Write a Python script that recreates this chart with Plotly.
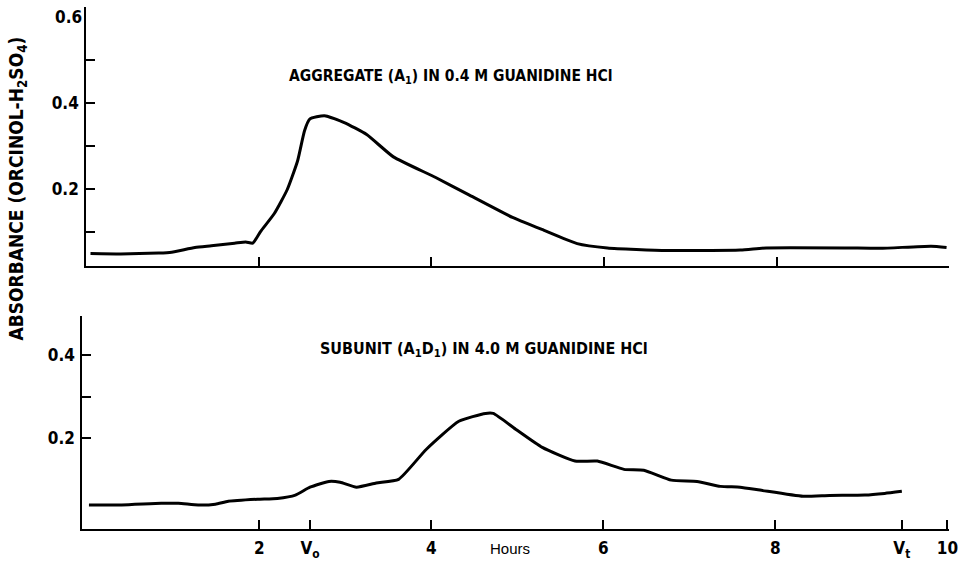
import plotly.graph_objects as go

# ---- data (hours vs absorbance) ----
agg_hours = [0.05, 0.40, 0.84, 0.99, 1.26, 1.45, 1.72, 1.85, 1.93, 2.02, 2.18, 2.33, 2.45,
             2.53, 2.59, 2.76, 2.99, 3.25, 3.56, 4.05, 4.43, 4.94, 5.28, 5.69, 6.04, 6.73,
             7.58, 7.88, 8.79, 9.20, 9.79, 9.97]
agg_abs = [0.049, 0.048, 0.050, 0.052, 0.063, 0.067, 0.073, 0.076, 0.073, 0.100, 0.142, 0.198,
           0.265, 0.335, 0.362, 0.370, 0.354, 0.326, 0.274, 0.226, 0.186, 0.133, 0.105, 0.072,
           0.062, 0.056, 0.057, 0.062, 0.062, 0.061, 0.066, 0.063]

sub_hours = [0.02, 0.40, 0.86, 1.06, 1.29, 1.49, 1.64, 1.98, 2.21, 2.42, 2.59, 2.81, 2.94,
             3.13, 3.36, 3.62, 3.94, 4.32, 4.63, 4.72, 4.98, 5.29, 5.67, 5.93, 6.24, 6.47,
             6.79, 7.09, 7.36, 7.59, 7.82, 8.32, 8.63, 9.04, 9.27, 9.47]
sub_abs = [0.039, 0.039, 0.043, 0.043, 0.039, 0.041, 0.048, 0.053, 0.055, 0.063, 0.082, 0.096,
           0.094, 0.082, 0.092, 0.101, 0.173, 0.241, 0.260, 0.260, 0.222, 0.178, 0.145, 0.145,
           0.125, 0.123, 0.099, 0.096, 0.084, 0.082, 0.075, 0.060, 0.062, 0.063, 0.067, 0.072]

top_xticks = [2, 4, 6, 8, 10]
bot_xticks = [2, 2.59, 4, 6, 8, 9.47, 10]
bot_xlabels = ["2", "V<sub>o</sub>", "4", "6", "8", "V<sub>t</sub>", "10"]
top_yticks = [0.1, 0.2, 0.3, 0.4, 0.5, 0.623]
top_ylabels = ["", "0.2", "", "0.4", "", ""]
bot_yticks = [0.2, 0.3, 0.4, 0.494]
bot_ylabels = ["0.2", "", "0.4", ""]

W, H = 975, 561
FONT = "DejaVu Sans Condensed, Liberation Sans Narrow, Arial Narrow, sans-serif"

def px(x):
    return x / W

def py(y):
    return 1 - y / H

fig = go.Figure()
fig.add_trace(go.Scatter(x=agg_hours, y=agg_abs, mode="lines", xaxis="x", yaxis="y",
                         line=dict(color="black", width=3, shape="spline", smoothing=0.5),
                         showlegend=False))
fig.add_trace(go.Scatter(x=sub_hours, y=sub_abs, mode="lines", xaxis="x2", yaxis="y2",
                         line=dict(color="black", width=3, shape="spline", smoothing=0.5),
                         showlegend=False))

axis_common = dict(showline=True, linecolor="black", linewidth=2, showgrid=False,
                   zeroline=False, ticks="inside", tickcolor="black", tickwidth=2,
                   tickfont=dict(family=FONT, size=17, color="black", weight="bold"))

fig.update_layout(
    width=W, height=H,
    margin=dict(l=0, r=0, t=0, b=0),
    paper_bgcolor="white", plot_bgcolor="white",
    xaxis=dict(domain=[px(87), px(958)], range=[0, 10.0], anchor="y",
               tickvals=top_xticks, showticklabels=False, ticklen=9, **axis_common),
    yaxis=dict(domain=[py(266), py(7)], range=[0.021, 0.623], anchor="x",
               tickvals=top_yticks, ticktext=top_ylabels, ticklen=9, ticklabelstandoff=2,
               **axis_common),
    xaxis2=dict(domain=[px(83), px(958)], range=[-0.058, 10.02], anchor="y2",
                tickvals=bot_xticks, ticktext=bot_xlabels, ticklen=9, ticklabelstandoff=3,
                **axis_common),
    yaxis2=dict(domain=[py(530), py(317)], range=[-0.019, 0.494], anchor="x2",
                tickvals=bot_yticks, ticktext=bot_ylabels, ticklen=9, ticklabelstandoff=2,
                **axis_common),
)

fig.add_annotation(xref="paper", yref="y", x=px(85), y=0.6, text="0.6", showarrow=False,
                   xanchor="right", yanchor="middle",
                   font=dict(family=FONT, size=17, color="black", weight="bold"))
fig.add_annotation(xref="paper", yref="paper", x=px(455), y=py(77),
                   xanchor="center", yanchor="middle",
                   text="AGGREGATE (A<sub>1</sub>) IN 0.4 M GUANIDINE HCl", showarrow=False,
                   font=dict(family=FONT, size=15.5, color="black", weight="bold"))
fig.add_annotation(xref="paper", yref="paper", x=px(489), y=py(350),
                   xanchor="center", yanchor="middle",
                   text="SUBUNIT (A<sub>1</sub>D<sub>1</sub>) IN 4.0 M GUANIDINE HCl",
                   showarrow=False,
                   font=dict(family=FONT, size=16, color="black", weight="bold"))
fig.add_annotation(xref="paper", yref="paper", x=px(18), y=py(189), textangle=-90,
                   xanchor="center", yanchor="middle",
                   text="ABSORBANCE (ORCINOL-H<sub>2</sub>SO<sub>4</sub>)", showarrow=False,
                   font=dict(family=FONT, size=19, color="black", weight="bold"))
fig.add_annotation(xref="x2", yref="paper", x=4.91, y=py(549), text="Hours", showarrow=False,
                   xanchor="center", yanchor="middle",
                   font=dict(family="Liberation Sans, Arial, sans-serif", size=15, color="black"))

fig.write_html(
    "out.html",
    config={"displayModeBar": False},
    post_script=("document.documentElement.style.overflow='hidden';"
                 "document.body.style.margin='0';"
                 "document.body.style.overflow='hidden';"),
)
